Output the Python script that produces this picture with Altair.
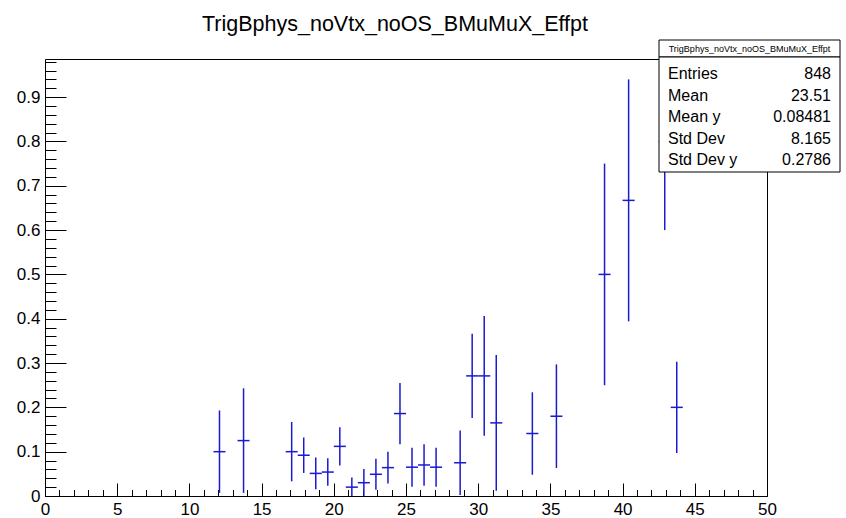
import altair as alt
import pandas as pd

# ---- data (profile bins of width 50/60) ----
bin_centers = [12.083, 13.750, 17.083, 17.917, 18.750, 19.583, 20.417, 21.250,
               22.083, 22.917, 23.750, 24.583, 25.417, 26.250, 27.083, 28.750,
               29.583, 30.417, 31.250, 33.750, 35.417, 38.750, 40.417, 42.917,
               43.750]
bin_width = 50.0 / 60.0
values = [0.100, 0.125, 0.100, 0.092, 0.051, 0.054, 0.112, 0.020,
          0.030, 0.049, 0.064, 0.186, 0.065, 0.070, 0.065, 0.075,
          0.271, 0.271, 0.165, 0.141, 0.180, 0.500, 0.667, 0.800,
          0.200]
errors = [0.093, 0.118, 0.067, 0.040, 0.036, 0.031, 0.043, 0.022,
          0.031, 0.035, 0.036, 0.069, 0.044, 0.047, 0.044, 0.073,
          0.095, 0.135, 0.153, 0.093, 0.117, 0.250, 0.273, 0.200,
          0.103]

x_major = [0, 5, 10, 15, 20, 25, 30, 35, 40, 45, 50]
x_minor = list(range(0, 51))
y_major = [0, 0.1, 0.2, 0.3, 0.4, 0.5, 0.6, 0.7, 0.8, 0.9]
y_minor = [round(0.02 * i, 2) for i in range(0, 50)]

title_text = "TrigBphys_noVtx_noOS_BMuMuX_Effpt"
stats_labels = ["Entries", "Mean", "Mean y", "Std Dev", "Std Dev y"]
stats_values = ["848", "23.51", "0.08481", "8.165", "0.2786"]

# ---- table ----
df = pd.DataFrame({"x": bin_centers, "y": values, "err": errors})
df["x_lo"] = df["x"] - bin_width / 2
df["x_hi"] = df["x"] + bin_width / 2
df["y_lo"] = df["y"] - df["err"]
df["y_hi"] = df["y"] + df["err"]

FONT = "Liberation Sans"
BLUE = "#1a1ad0"
W, H = 722, 437

xscale = alt.Scale(domain=[0, 50], nice=False, zero=False)
yscale = alt.Scale(domain=[0, 0.986], nice=False, zero=False)

base = alt.Chart(df)

# horizontal bin-width bars + label axes
hbars = base.mark_rule(color=BLUE, strokeWidth=1.5, clip=True).encode(
    x=alt.X("x_lo:Q", scale=xscale,
            axis=alt.Axis(orient="bottom", values=x_major, ticks=False, domain=False,
                          grid=False, labelFontSize=17, labelFont=FONT,
                          labelColor="black", labelPadding=5, format="~g", title=None,
                          labelFlush=False, labelOverlap=False)),
    x2="x_hi:Q",
    y=alt.Y("y:Q", scale=yscale,
            axis=alt.Axis(orient="left", values=y_major, ticks=False, domain=False,
                          grid=False, labelFontSize=17, labelFont=FONT,
                          labelColor="black", labelPadding=5, format="~g", title=None,
                          labelFlush=False, labelOverlap=False)),
)

# vertical error bars + major tick axes (inward)
vbars = base.mark_rule(color=BLUE, strokeWidth=1.5, clip=True).encode(
    x=alt.X("x:Q", scale=xscale,
            axis=alt.Axis(orient="top", offset=-H, values=x_major, labels=False,
                          domain=False, grid=False, tickSize=13, tickColor="black",
                          tickWidth=1, title=None)),
    y=alt.Y("y_lo:Q", scale=yscale,
            axis=alt.Axis(orient="right", offset=-W, values=y_major, labels=False,
                          domain=False, grid=False, tickSize=21, tickColor="black",
                          tickWidth=1, title=None)),
    y2="y_hi:Q",
)

# invisible layer carrying the minor tick axes
minor = base.mark_point(opacity=0).encode(
    x=alt.X("x:Q", scale=xscale,
            axis=alt.Axis(orient="top", offset=-H, values=x_minor, labels=False,
                          domain=False, grid=False, tickSize=6.5, tickColor="black",
                          tickWidth=1, title=None)),
    y=alt.Y("y:Q", scale=yscale,
            axis=alt.Axis(orient="right", offset=-W, values=y_minor, labels=False,
                          domain=False, grid=False, tickSize=11, tickColor="black",
                          tickWidth=1, title=None)),
)

# ---- stats box ----
one = pd.DataFrame({"k": [0]})
box_title = alt.Chart(one).mark_rect(fill="white", stroke="black", strokeWidth=1).encode(
    x=alt.value(614), x2=alt.value(795), y=alt.value(-19), y2=alt.value(-2))
box_main = alt.Chart(one).mark_rect(fill="white", stroke="black", strokeWidth=1).encode(
    x=alt.value(614), x2=alt.value(795), y=alt.value(-2), y2=alt.value(113))
box_title_text = alt.Chart(one).mark_text(font=FONT, fontSize=9, color="black",
                                          align="center", baseline="middle").encode(
    x=alt.value(704.5), y=alt.value(-10), text=alt.value(title_text))

stat_layers = []
for i, (lab, val) in enumerate(zip(stats_labels, stats_values)):
    yy = 15 + i * 21.5
    stat_layers.append(alt.Chart(one).mark_text(font=FONT, fontSize=16, color="black",
                                                align="left", baseline="middle").encode(
        x=alt.value(623), y=alt.value(yy), text=alt.value(lab)))
    stat_layers.append(alt.Chart(one).mark_text(font=FONT, fontSize=16, color="black",
                                                align="right", baseline="middle").encode(
        x=alt.value(786), y=alt.value(yy), text=alt.value(val)))

chart = alt.layer(
    hbars, vbars, minor, box_title, box_main, box_title_text, *stat_layers
).resolve_axis(
    x="independent", y="independent"
).properties(
    width=W, height=H,
    title=alt.TitleParams(title_text, fontSize=21.5, font=FONT, fontWeight="normal",
                          anchor="middle", dx=-11, offset=4, color="black"),
    padding={"left": 45, "top": 59, "right": 846 - 45 - W, "bottom": 518 - 59 - H},
    autosize=alt.AutoSizeParams(type="none"),
).configure(
    font=FONT, background="white"
).configure_view(
    stroke="black", strokeWidth=1
)

chart.save("out.html", embed_options={"renderer": "svg", "actions": False})
